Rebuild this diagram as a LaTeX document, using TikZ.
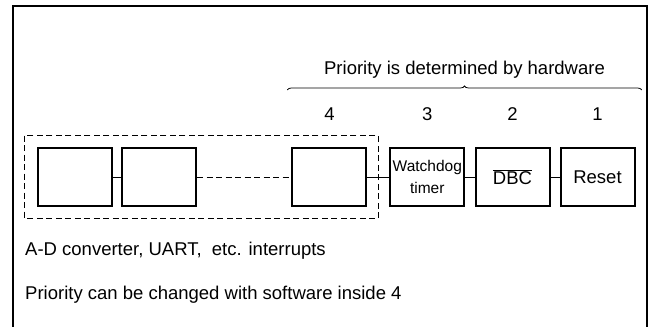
\documentclass[tikz,border=0pt]{standalone}
\usepackage{fontspec}
\setmainfont{Liberation Sans}
\usetikzlibrary{decorations.pathreplacing}
\tikzset{blk/.style={draw,line width=2pt,minimum width=74pt,minimum height=58.5pt,inner sep=0pt},
         txt/.style={inner sep=0pt,font=\fontsize{18.5}{22}\selectfont}}
\begin{document}
\begin{tikzpicture}[x=1pt,y=-1pt]
                      \useasboundingbox(0,0)rectangle(649,327);
                      \draw[line width=2pt](13,330)--(13,6)--(647,6)--(647,330);
                      \draw[line width=1pt,dash pattern=on 6pt off 3.5pt](24.8,135.5)rectangle(378.3,218.5);
                      \node[blk](b1)at(74.5,177){};
                      \node[blk](b2)at(159,177){};
                      \node[blk](b4)at(329.4,177){};
                      \node[blk,align=center,font=\fontsize{15.5}{22}\selectfont](wd)at(427.3,177){Watchdog\\timer};
                      \node[blk,font=\fontsize{18.5}{22}\selectfont](dbc)at(512.5,177){$\overline{\mbox{DBC}}$};
                      \node[blk,font=\fontsize{18.5}{22}\selectfont](rst)at(597.5,177){Reset};
                      \draw[line width=1pt](b1)--(b2);
                      \draw[line width=1pt,dash pattern=on 6pt off 3.5pt](b2)--(b4);
                      \draw[line width=1pt](b4)--(wd);
                      \draw[line width=1pt](wd)--(dbc);
                      \draw[line width=1pt](dbc)--(rst);
                      \foreach \b/\n in {b4/4, wd/3, dbc/2, rst/1} \node[txt](n\n)at(\b.center|-0,114){\n};
                      \coordinate(bl)at(287.3,90);
                      \coordinate(br)at(641.7,90);
                      \draw[line width=0.8pt,decorate,decoration={brace,amplitude=4pt}](bl)--(br);
                      \node[txt](hw)at(464.5,70){Priority is determined by hardware};
                      \node[txt,anchor=west](ad)at(25,251){A-D converter, UART, \ etc. interrupts};
                      \node[txt,anchor=west](sw)at(25,295){Priority can be changed with software inside 4};
                  \end{tikzpicture}
\end{document}
